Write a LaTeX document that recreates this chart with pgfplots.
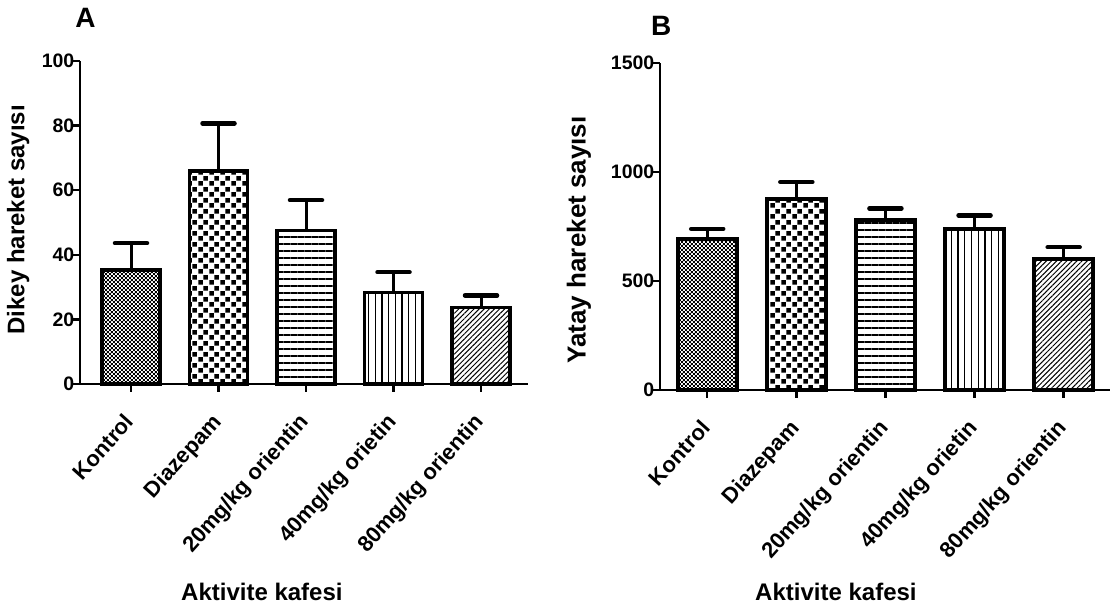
\documentclass[border=0pt]{standalone}
\usepackage{fontspec}
\setmainfont{Liberation Sans}
\usepackage{pgfplots}
\pgfplotsset{compat=1.18}
\usetikzlibrary{patterns,patterns.meta}

\pgfdeclarepatternformonly{finecheck}{\pgfqpoint{0pt}{0pt}}{\pgfqpoint{4.4pt}{4.4pt}}{\pgfqpoint{4.4pt}{4.4pt}}{%
  \pgfpathrectangle{\pgfpointorigin}{\pgfqpoint{2.2pt}{2.2pt}}%
  \pgfpathrectangle{\pgfqpoint{2.2pt}{2.2pt}}{\pgfqpoint{2.2pt}{2.2pt}}%
  \pgfusepath{fill}}
\pgfdeclarepatternformonly{bigcheck}{\pgfqpoint{0pt}{0pt}}{\pgfqpoint{11pt}{11pt}}{\pgfqpoint{11pt}{11pt}}{%
  \pgfpathrectangle{\pgfqpoint{0.3pt}{0.3pt}}{\pgfqpoint{4.9pt}{4.9pt}}%
  \pgfpathrectangle{\pgfqpoint{5.8pt}{5.8pt}}{\pgfqpoint{4.9pt}{4.9pt}}%
  \pgfusepath{fill}}

\newcommand{\tickfont}{\fontsize{19.5}{21}\selectfont\bfseries}
\newcommand{\xtickfont}{\fontsize{22}{24}\selectfont\bfseries}
\newcommand{\labfont}{\fontsize{24}{26}\selectfont\bfseries}

\pgfplotsset{
  mybar/.style={ybar, bar shift=0pt, draw=black, line width=3.7pt,
    error bars/.cd, y dir=plus, y explicit,
    error bar style={line width=3pt, black},
    error mark options={rotate=90, mark size=16pt, line width=4.5pt, black, line cap=round},
    /pgfplots/.cd},
  common/.style={
    scale only axis,
    axis x line=bottom, axis y line=left,
    axis line style={-, line width=2.5pt},
    xtick={0,1,2,3,4},
    xticklabels={Kontrol,Diazepam,20mg/kg orientin,40mg/kg orietin,80mg/kg orientin},
    tick align=outside, major tick length=8pt,
    tick style={line width=2.5pt, black},
    /pgf/number format/assume math mode=true,
    /pgf/number format/1000 sep={},
    yticklabel style={font=\tickfont, inner sep=0.5pt, xshift=3pt},
    xticklabel style={font=\xtickfont, xshift=-8pt, yshift=-20pt, rotate=48, anchor=north east, inner sep=0pt},
    xlabel style={font=\labfont},
    ylabel style={font=\labfont},
    clip=false,
  }
}

\begin{document}
\begin{tikzpicture}
\path (0,0) rectangle (1112pt,615pt);

\begin{axis}[common,
  at={(80pt,231pt)}, anchor=south west, width=448pt, height=323pt,
  xmin=-0.583, xmax=4.537, ymin=0, ymax=100,
  ytick={0,20,40,60,80,100},
  bar width=58pt,
  xlabel={Aktivite kafesi},
  xlabel style={at={(axis description cs:0.406,-0.644)}, anchor=center},
  ylabel={Dikey hareket sayısı},
  ylabel style={at={(axis description cs:-0.138,0.508)}, anchor=center, rotate=0},
  title={A}, title style={at={(axis description cs:0.012,1.115)}, anchor=center, font=\fontsize{28}{30}\selectfont\bfseries},
]
\addplot[pattern=finecheck, mybar] coordinates {(0,35.4) +- (0,8.2)};
\addplot[pattern=bigcheck, mybar] coordinates {(1,65.9) +- (0,14.8)};
\addplot[pattern={Lines[distance=7pt, angle=0, line width=1.3pt]}, mybar] coordinates {(2,47.5) +- (0,9.4)};
\addplot[pattern={Lines[distance=6.7pt, angle=90, line width=1.3pt]}, mybar] coordinates {(3,28.3) +- (0,6.3)};
\addplot[pattern={Lines[distance=3.6pt, angle=45, line width=1pt]}, mybar] coordinates {(4,23.7) +- (0,3.7)};
\end{axis}

\begin{axis}[common,
  at={(660pt,225pt)}, anchor=south west, width=450pt, height=327pt,
  xmin=-0.53, xmax=4.52, ymin=0, ymax=1500,
  ytick={0,500,1000,1500},
  bar width=59pt,
  xlabel={Aktivite kafesi},
  xlabel style={at={(axis description cs:0.391,-0.618)}, anchor=center},
  ylabel={Yatay hareket sayısı},
  ylabel style={at={(axis description cs:-0.18,0.459)}, anchor=center, rotate=0, font=\fontsize{26}{28}\selectfont\bfseries},
  title={B}, title style={at={(axis description cs:0.003,1.095)}, anchor=center, font=\fontsize{28}{30}\selectfont\bfseries},
]
\addplot[pattern=finecheck, mybar] coordinates {(0,693) +- (0,46)};
\addplot[pattern=bigcheck, mybar] coordinates {(1,876) +- (0,78)};
\addplot[pattern={Lines[distance=7pt, angle=0, line width=1.3pt]}, mybar] coordinates {(2,779) +- (0,54)};
\addplot[pattern={Lines[distance=6.7pt, angle=90, line width=1.3pt]}, mybar] coordinates {(3,739) +- (0,62)};
\addplot[pattern={Lines[distance=3.6pt, angle=45, line width=1pt]}, mybar] coordinates {(4,601) +- (0,54)};
\end{axis}
\end{tikzpicture}
\end{document}
